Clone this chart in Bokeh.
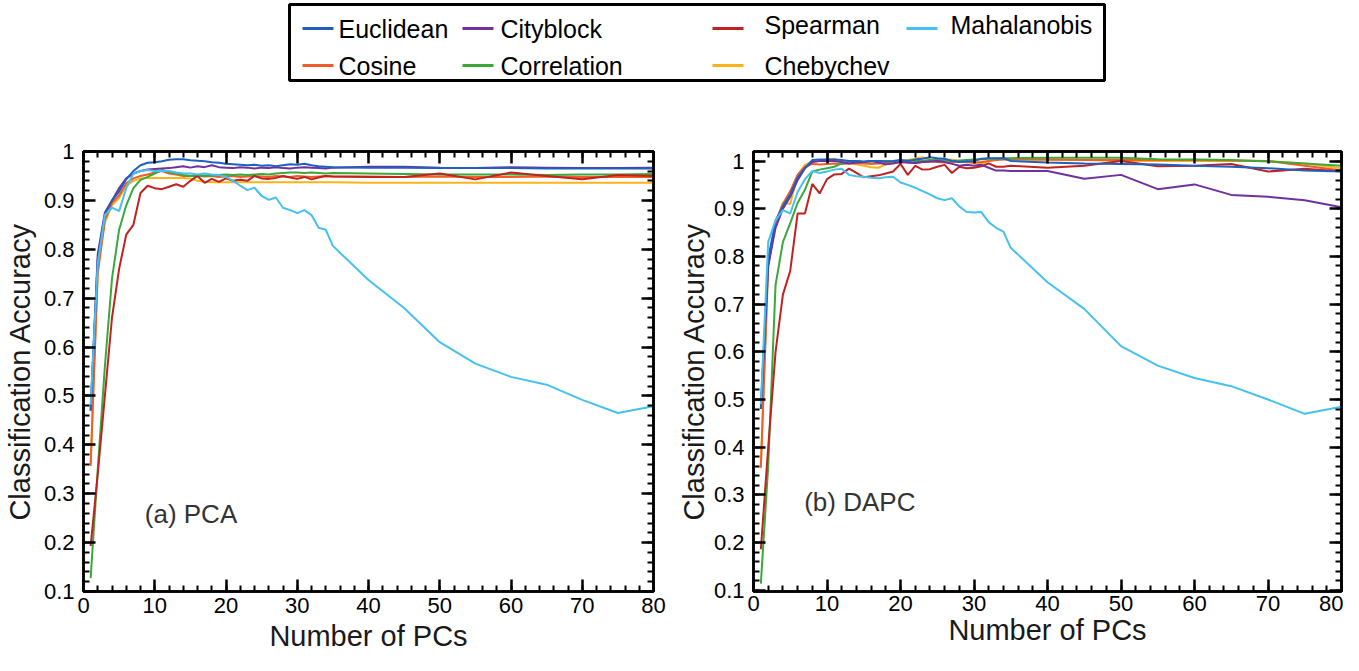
from bokeh.plotting import figure
from bokeh.layouts import column, row
from bokeh.models import Range1d, FixedTicker, LinearAxis, Label, ColumnDataSource
from bokeh.embed import file_html
from bokeh.resources import INLINE
from bokeh.core.properties import value

FONT = "Liberation Sans"

# ---------------- data ----------------
pcs = [1, 2, 3, 4, 5, 6, 7, 8, 9, 10, 11, 12, 13, 14, 15, 16, 17, 18, 19, 20,
       21, 22, 23, 24, 25, 26, 27, 28, 29, 30, 31, 32, 33, 34, 35,
       40, 45, 50, 55, 60, 65, 70, 75, 80]

series_names = ["Euclidean", "Cityblock", "Spearman", "Mahalanobis",
                "Cosine", "Correlation", "Chebychev"]

# (a) PCA
pca_euclidean = [0.47, 0.78, 0.872, 0.90, 0.918, 0.943, 0.96, 0.972, 0.977, 0.978,
                 0.98, 0.983, 0.984, 0.984, 0.982, 0.981, 0.98, 0.978, 0.977, 0.975,
                 0.974, 0.973, 0.972, 0.973, 0.971, 0.972, 0.97, 0.972, 0.974, 0.973,
                 0.975, 0.972, 0.97, 0.969, 0.968,
                 0.967, 0.967, 0.966, 0.966, 0.966, 0.965, 0.965, 0.965, 0.965]
pca_cityblock = [0.47, 0.79, 0.875, 0.90, 0.925, 0.945, 0.955, 0.960, 0.963, 0.964,
                 0.965, 0.966, 0.968, 0.970, 0.967, 0.970, 0.968, 0.972, 0.968, 0.967,
                 0.966, 0.968, 0.967, 0.965, 0.967, 0.966, 0.968, 0.966, 0.965, 0.967,
                 0.968, 0.967, 0.966, 0.965, 0.967,
                 0.969, 0.969, 0.967, 0.966, 0.968, 0.967, 0.966, 0.966, 0.967]
pca_spearman = [0.193, 0.34, 0.50, 0.66, 0.76, 0.83, 0.85, 0.915, 0.930, 0.925,
                0.923, 0.928, 0.933, 0.928, 0.940, 0.950, 0.936, 0.944, 0.938, 0.945,
                0.940, 0.942, 0.940, 0.950, 0.945, 0.944, 0.946, 0.950, 0.947, 0.944,
                0.948, 0.943, 0.947, 0.950, 0.949,
                0.948, 0.948, 0.955, 0.943, 0.957, 0.950, 0.943, 0.952, 0.950]
pca_mahalanobis = [0.482, 0.77, 0.87, 0.885, 0.878, 0.925, 0.955, 0.96, 0.962, 0.96,
                   0.96, 0.96, 0.957, 0.955, 0.955, 0.953, 0.955, 0.953, 0.952, 0.948,
                   0.94, 0.93, 0.921, 0.926, 0.909, 0.901, 0.906, 0.885, 0.88, 0.874,
                   0.88, 0.87, 0.844, 0.84, 0.807,
                   0.737, 0.68, 0.61, 0.566, 0.539, 0.523, 0.492, 0.465, 0.479]
pca_cosine = [0.357, 0.75, 0.86, 0.895, 0.91, 0.935, 0.945, 0.950, 0.953, 0.957,
              0.960, 0.955, 0.953, 0.950, 0.950, 0.951, 0.949, 0.950, 0.948, 0.949,
              0.950, 0.948, 0.949, 0.950, 0.949, 0.948, 0.950, 0.949, 0.948, 0.950,
              0.949, 0.948, 0.949, 0.950, 0.949,
              0.949, 0.948, 0.949, 0.948, 0.948, 0.949, 0.948, 0.948, 0.948]
pca_correlation = [0.127, 0.35, 0.56, 0.74, 0.84, 0.89, 0.925, 0.942, 0.948, 0.955,
                   0.962, 0.958, 0.955, 0.952, 0.950, 0.950, 0.951, 0.950, 0.952, 0.953,
                   0.952, 0.953, 0.952, 0.953, 0.954, 0.953, 0.955, 0.956, 0.957, 0.957,
                   0.956, 0.957, 0.956, 0.955, 0.956,
                   0.955, 0.954, 0.953, 0.953, 0.953, 0.952, 0.953, 0.953, 0.954]
pca_chebychev = [0.36, 0.76, 0.855, 0.89, 0.905, 0.93, 0.94, 0.945, 0.946, 0.946,
                 0.946, 0.946, 0.946, 0.946, 0.945, 0.940, 0.938, 0.937, 0.937, 0.937,
                 0.937, 0.937, 0.937, 0.937, 0.937, 0.937, 0.937, 0.937, 0.937, 0.937,
                 0.937, 0.937, 0.937, 0.937, 0.937,
                 0.936, 0.936, 0.936, 0.936, 0.936, 0.936, 0.936, 0.936, 0.936]

# (b) DAPC
dapc_euclidean = [0.48, 0.795, 0.875, 0.905, 0.93, 0.965, 0.985, 1.002, 1.003, 1.003,
                  1.003, 1.002, 1.0, 1.0, 0.999, 1.0, 1.0, 0.999, 1.0, 1.002,
                  1.0, 1.003, 1.005, 1.008, 1.006, 1.005, 1.0, 0.998, 0.999, 1.0,
                  1.005, 1.006, 1.006, 1.006, 1.0,
                  0.997, 0.995, 0.994, 0.993, 0.99, 0.988, 0.985, 0.98, 0.978]
dapc_cityblock = [0.48, 0.78, 0.86, 0.90, 0.925, 0.96, 0.985, 0.998, 1.0, 1.0,
                  1.0, 0.998, 0.995, 0.997, 0.998, 1.0, 0.997, 0.993, 0.995, 0.998,
                  0.997, 0.996, 0.998, 0.999, 1.0, 0.998, 0.994, 0.99, 0.992, 0.99,
                  0.992, 0.986, 0.98, 0.98, 0.979,
                  0.979, 0.963, 0.971, 0.941, 0.951, 0.929, 0.925, 0.918, 0.903]
dapc_spearman = [0.186, 0.40, 0.60, 0.72, 0.77, 0.89, 0.89, 0.952, 0.932, 0.962,
                 0.972, 0.973, 0.984, 0.975, 0.966, 0.968, 0.970, 0.974, 0.978, 0.994,
                 0.971, 0.990, 0.982, 0.983, 0.988, 0.992, 0.975, 0.988, 0.985, 0.986,
                 0.989, 0.995, 0.988, 0.988, 0.990,
                 0.986, 0.990, 1.0, 0.989, 0.990, 0.994, 0.978, 0.984, 0.978]
dapc_mahalanobis = [0.49, 0.83, 0.876, 0.897, 0.89, 0.935, 0.962, 0.979, 0.975, 0.978,
                    0.982, 0.984, 0.971, 0.968, 0.967, 0.965, 0.964, 0.966, 0.967, 0.955,
                    0.95, 0.944, 0.937, 0.93, 0.922, 0.918, 0.922, 0.905, 0.893, 0.892,
                    0.893, 0.872, 0.86, 0.852, 0.818,
                    0.746, 0.69, 0.612, 0.571, 0.545, 0.528, 0.50, 0.47, 0.485]
dapc_cosine = [0.357, 0.78, 0.872, 0.91, 0.937, 0.971, 0.988, 0.994, 0.993, 0.994,
               0.995, 0.994, 0.995, 0.996, 0.995, 0.994, 0.995, 0.996, 0.997, 0.998,
               0.997, 0.996, 0.998, 0.999, 0.998, 0.997, 0.998, 0.999, 0.998, 0.997,
               0.998, 1.0, 1.002, 1.003, 1.003,
               1.003, 1.002, 1.002, 1.002, 1.002, 1.001, 1.0, 0.99, 0.98]
dapc_correlation = [0.114, 0.36, 0.74, 0.83, 0.87, 0.912, 0.94, 0.978, 0.982, 0.985,
                    0.988, 0.995, 0.999, 1.0, 0.998, 0.999, 1.0, 1.0, 0.999, 1.0,
                    1.001, 1.0, 1.0, 1.002, 1.002, 1.001, 1.0, 1.001, 1.002, 1.003,
                    1.004, 1.005, 1.005, 1.006, 1.006,
                    1.007, 1.007, 1.007, 1.004, 1.003, 1.002, 0.999, 0.995, 0.99]
dapc_chebychev = [0.36, 0.79, 0.87, 0.913, 0.91, 0.97, 0.992, 0.999, 1.0, 1.003,
                  1.005, 0.998, 0.995, 0.993, 0.990, 0.987, 0.986, 0.993, 0.998, 1.0,
                  1.002, 1.005, 1.008, 1.003, 1.0, 1.002, 1.003, 1.0, 0.998, 0.996,
                  0.994, 1.0, 1.004, 1.004, 1.004,
                  1.002, 1.002, 1.0, 1.0, 1.0, 1.0, 1.0, 0.995, 0.985]

x_ticks = [0, 10, 20, 30, 40, 50, 60, 70, 80]
x_tick_labels = ["0", "10", "20", "30", "40", "50", "60", "70", "80"]
y_ticks = [0.1, 0.2, 0.3, 0.4, 0.5, 0.6, 0.7, 0.8, 0.9, 1.0]
y_tick_labels = ["0.1", "0.2", "0.3", "0.4", "0.5", "0.6", "0.7", "0.8", "0.9", "1"]

# ---------------- styles ----------------
colors = {
    "Euclidean": "#1e5fc0",
    "Cityblock": "#7030a0",
    "Spearman": "#c0221f",
    "Mahalanobis": "#45c0ef",
    "Cosine": "#f25c28",
    "Correlation": "#3aa83a",
    "Chebychev": "#f8b418",
}
draw_order = ["Chebychev", "Cosine", "Correlation", "Spearman", "Cityblock",
              "Euclidean", "Mahalanobis"]

pca = {"Euclidean": pca_euclidean, "Cityblock": pca_cityblock, "Spearman": pca_spearman,
       "Mahalanobis": pca_mahalanobis, "Cosine": pca_cosine,
       "Correlation": pca_correlation, "Chebychev": pca_chebychev}
dapc = {"Euclidean": dapc_euclidean, "Cityblock": dapc_cityblock, "Spearman": dapc_spearman,
        "Mahalanobis": dapc_mahalanobis, "Cosine": dapc_cosine,
        "Correlation": dapc_correlation, "Chebychev": dapc_chebychev}

x_minor = list(range(0, 81, 2))
y_minor = [round(0.1 + 0.02 * i, 2) for i in range(0, 46)]


def style_axis(ax, ticks, minor, labels, show):
    ax.ticker = FixedTicker(ticks=ticks, minor_ticks=minor)
    ax.axis_line_color = "black"
    ax.axis_line_width = 2.5
    ax.major_tick_line_color = "black"
    ax.major_tick_line_width = 2.5
    ax.major_tick_in = 12
    ax.major_tick_out = 0
    ax.minor_tick_line_color = "black"
    ax.minor_tick_line_width = 2
    ax.minor_tick_in = 6
    ax.minor_tick_out = 0
    if show:
        ax.major_label_overrides = dict(zip(ticks, labels))
        ax.major_label_text_font = FONT
        ax.major_label_text_font_size = "22px"
        ax.major_label_text_color = "black"
    else:
        ax.major_label_overrides = {t: "" for t in ticks}
        ax.major_label_text_font_size = "0px"
        ax.major_label_standoff = 0


def make_panel(data, width, height, borders, y_lo, y_hi, tag, tag_x, tag_y,
               xl_standoff, yl_standoff, x_lab_standoff):
    p = figure(width=width, height=height, x_range=Range1d(0, 80),
               y_range=Range1d(y_lo, y_hi), output_backend="svg",
               toolbar_location=None,
               min_border_left=borders[0], min_border_right=borders[1],
               min_border_top=borders[2], min_border_bottom=borders[3])
    p.grid.visible = False
    p.outline_line_color = "black"
    p.outline_line_width = 2.5
    p.background_fill_color = "white"
    p.border_fill_color = "white"

    for name in draw_order:
        p.line(pcs, data[name], line_color=colors[name], line_width=2)

    style_axis(p.xaxis[0], x_ticks, x_minor, x_tick_labels, True)
    style_axis(p.yaxis[0], y_ticks, y_minor, y_tick_labels, True)
    p.xaxis[0].major_label_standoff = x_lab_standoff
    p.yaxis[0].major_label_standoff = 9

    p.xaxis[0].axis_label = "Number of PCs"
    p.yaxis[0].axis_label = "Classification Accuracy"
    for ax in (p.xaxis[0], p.yaxis[0]):
        ax.axis_label_text_font = FONT
        ax.axis_label_text_font_size = "29px"
        ax.axis_label_text_font_style = "normal"
        ax.axis_label_text_color = "#1a1a1a"
    p.xaxis[0].axis_label_standoff = xl_standoff
    p.yaxis[0].axis_label_standoff = yl_standoff

    top = LinearAxis()
    style_axis(top, x_ticks, x_minor, x_tick_labels, False)
    p.add_layout(top, "above")
    right = LinearAxis()
    style_axis(right, y_ticks, y_minor, y_tick_labels, False)
    p.add_layout(right, "right")

    p.add_layout(Label(x=tag_x, y=tag_y, text=tag, text_font=FONT,
                       text_font_size="26px", text_color="#333333",
                       text_baseline="middle", text_align="left"))
    return p


p1 = make_panel(pca, 672, 555, (78, 19, 51, 64), 0.1, 1.0, "(a) PCA", 8.6, 0.259,
                4, 5, 6)
p2 = make_panel(dapc, 671, 555, (81, 2, 45, 59), 0.0975, 1.02, "(b) DAPC", 6.9, 0.286,
                0, 1, 4)

# ---------------- legend (separate strip) ----------------
leg = figure(width=1343, height=100, x_range=Range1d(0, 1343), y_range=Range1d(100, 0),
             output_backend="svg", toolbar_location=None, x_axis_type=None,
             y_axis_type=None, min_border=0)
leg.grid.visible = False
leg.outline_line_color = None
leg.background_fill_color = "white"
leg.border_fill_color = "white"

leg.quad(left=[289], right=[1104], top=[4], bottom=[80], fill_color=None,
         line_color="black", line_width=3)

leg_order = ["Euclidean", "Cityblock", "Spearman", "Mahalanobis",
             "Cosine", "Correlation", "Chebychev"]
col_x = [302, 462, 712, 906, 302, 462, 712]
text_x = [338, 500, 764, 950, 338, 500, 764]
row_y = [28, 28, 28, 28, 65, 65, 65]
text_dy = [0, 0, -4, -4, 0, 0, 0]

seg = ColumnDataSource(dict(
    x0=col_x, x1=[c + 31 for c in col_x], y=row_y,
    color=[colors[n] for n in leg_order]))
leg.segment(x0="x0", y0="y", x1="x1", y1="y", source=seg, line_color="color",
            line_width=3)
txt = ColumnDataSource(dict(x=text_x, y=[r + d for r, d in zip(row_y, text_dy)],
                            text=leg_order))
leg.text(x="x", y="y", text="text", source=txt, text_font=value(FONT),
         text_font_size="25px", text_baseline="middle", text_align="left",
         text_color="black")

layout = column(leg, row(p1, p2))
open("out.html", "w").write(file_html(layout, INLINE))
